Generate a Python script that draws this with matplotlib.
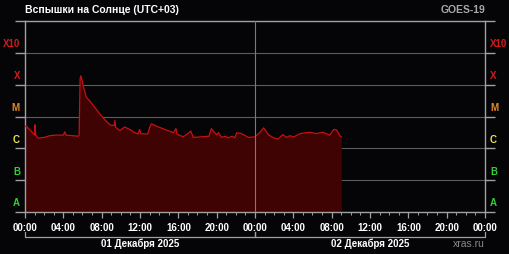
"""GOES-19 solar X-ray flux, 01-02 Dec 2025 (xras.ru style)."""

import matplotlib

matplotlib.use("Agg")
import matplotlib.pyplot as plt
from matplotlib.ticker import FixedLocator, MultipleLocator, NullFormatter

COLORS = {
    "bg": "#050508",
    "ink": "#ffffff",
    "muted": "#a8a8a8",
    "grid": "#5c5c5c",
    "spine": "#a0a0a0",
    "fill": "#3f0303",
    "line": "#c81010",
}

# hours since 01 Dec 00:00 (UTC+03)
hours = [
    0.0, 0.15, 0.35, 0.6, 0.9, 1.0, 1.05, 1.12, 1.35, 2.0, 2.6, 3.2, 3.6, 4.0,
    4.15, 4.3, 5.0, 5.55, 5.65, 5.75, 5.82, 6.0, 6.1, 6.4, 6.75, 7.3, 7.85,
    8.4, 8.9, 9.3, 9.38, 9.45, 9.9, 10.4, 11.0, 11.4, 11.8, 11.95, 12.1, 12.8,
    13.0, 13.2, 13.7, 14.6, 15.5, 15.75, 15.85, 16.5, 17.0, 17.3, 17.55, 18.4,
    19.2, 19.45, 19.7, 20.0, 20.2, 20.5, 20.9, 21.2, 21.6, 21.9, 22.1, 22.6,
    23.3, 24.0, 24.5, 24.9, 25.4, 25.9, 26.4, 26.9, 27.3, 27.65, 28.0, 28.7,
    29.7, 30.4, 31.1, 31.8, 32.2, 32.5, 32.9, 33.0,
]
# X-ray flux, W/m^2
flux = [
    4.8e-6, 5.0e-6, 4.2e-6, 3.6e-6, 2.8e-6, 2.6e-6, 5.5e-6, 2.6e-6, 2.1e-6,
    2.2e-6, 2.5e-6, 2.6e-6, 2.6e-6, 2.6e-6, 3.3e-6, 2.6e-6, 2.5e-6, 2.4e-6,
    2.6e-6, 1.5e-4, 1.9e-4, 1.2e-4, 8.5e-5, 4.0e-5, 3.1e-5, 1.9e-5, 1.15e-5,
    7.5e-6, 5.4e-6, 5.2e-6, 7.5e-6, 4.6e-6, 3.6e-6, 4.7e-6, 3.8e-6, 3.2e-6,
    2.8e-6, 3.9e-6, 2.9e-6, 2.8e-6, 4.5e-6, 5.9e-6, 5.0e-6, 3.9e-6, 3.1e-6,
    4.2e-6, 2.8e-6, 2.3e-6, 2.9e-6, 3.5e-6, 2.2e-6, 2.3e-6, 2.4e-6, 4.2e-6,
    3.3e-6, 2.7e-6, 3.1e-6, 2.2e-6, 2.4e-6, 2.15e-6, 2.4e-6, 2.15e-6, 3.1e-6,
    2.9e-6, 2.2e-6, 2.3e-6, 3.1e-6, 4.4e-6, 2.7e-6, 2.15e-6, 1.95e-6, 2.7e-6,
    2.2e-6, 2.5e-6, 2.25e-6, 2.9e-6, 3.2e-6, 2.9e-6, 3.2e-6, 2.6e-6, 3.9e-6,
    3.8e-6, 2.4e-6, 2.3e-6,
]

class_levels = [1e-8, 1e-7, 1e-6, 1e-5, 1e-4, 1e-3]
class_names = ["A", "B", "C", "M", "X", "X10"]
class_colors = ["#2fd02f", "#2fd02f", "#e6e64a", "#e08a2a", "#d41a1a", "#d41a1a"]

tick_hours = [0, 4, 8, 12, 16, 20, 24, 28, 32, 36, 40, 44, 48]
tick_labels = ["00:00", "04:00", "08:00", "12:00", "16:00", "20:00", "00:00",
               "04:00", "08:00", "12:00", "16:00", "20:00", "00:00"]
day_spans = [(0, 24), (24, 48)]
day_labels = ["01 Декабря 2025", "02 Декабря 2025"]

plt.rcParams.update({"font.family": ["Liberation Sans", "DejaVu Sans"], "font.size": 7})

fig = plt.figure(figsize=(5.1, 2.55), dpi=100, facecolor=COLORS["bg"])
ax = fig.add_axes([25 / 510, 42 / 255, 460 / 510, 191 / 255])
ax.set_facecolor(COLORS["bg"])

ax.fill_between(hours, flux, 1e-8, color=COLORS["fill"], linewidth=0, zorder=2)
ax.plot(hours, flux, color=COLORS["line"], linewidth=0.9, zorder=3)

ax.set_yscale("log")
ax.set_ylim(1e-8, 1e-2)
ax.set_xlim(0, 48)

for side, spine in ax.spines.items():
    spine.set_color(COLORS["spine"])
    spine.set_linewidth(1.0)

ax.yaxis.set_major_locator(FixedLocator(class_levels + [1e-2]))
ax.yaxis.set_minor_locator(FixedLocator([]))
ax.yaxis.set_major_formatter(NullFormatter())
ax.tick_params(axis="y", which="major", left=True, right=True, length=7,
               color=COLORS["spine"], width=1.0)
ax.grid(True, axis="y", color=COLORS["grid"], linewidth=0.8, zorder=1)
ax.axvline(24, color="#7a7a7a", linewidth=0.8, zorder=4)

ax.xaxis.set_major_locator(FixedLocator(tick_hours))
ax.xaxis.set_minor_locator(MultipleLocator(1))
ax.set_xticklabels(tick_labels, fontweight="bold", color=COLORS["ink"])
ax.tick_params(axis="x", which="major", length=4, width=0.9, color=COLORS["spine"], pad=3)
ax.tick_params(axis="x", which="minor", length=2, width=0.7, color=COLORS["spine"])

label_tr = ax.get_yaxis_transform()
for level, name, color in zip(class_levels, class_names, class_colors):
    ax.text(-0.011, level * 2, name, transform=label_tr, ha="right", va="center",
            color=color, fontsize=7, fontweight="bold", clip_on=False)
    ax.text(1.011, level * 2, name, transform=label_tr, ha="left", va="center",
            color=color, fontsize=7, fontweight="bold", clip_on=False)

day_tr = ax.get_xaxis_transform()
for (start, end), label in zip(day_spans, day_labels):
    ax.plot([start, start, end, end], [-0.105, -0.131, -0.131, -0.105], transform=day_tr,
            color=COLORS["spine"], linewidth=0.9, clip_on=False)
    ax.text((start + end) / 2, -0.162, label, transform=day_tr, ha="center", va="center",
            color=COLORS["ink"], fontsize=7, fontweight="bold")

fig.text(25 / 510, 1 - 10 / 255, "Вспышки на Солнце (UTC+03)", ha="left", va="center",
         color=COLORS["ink"], fontsize=7.5, fontweight="bold")
fig.text(485 / 510, 1 - 10 / 255, "GOES-19", ha="right", va="center",
         color=COLORS["muted"], fontsize=7.5, fontweight="bold")
fig.text(485 / 510, 1 - 244 / 255, "xras.ru", ha="right", va="center",
         color="#8a8a8a", fontsize=7.5)

fig.savefig("out.png", dpi=100, facecolor=COLORS["bg"])
